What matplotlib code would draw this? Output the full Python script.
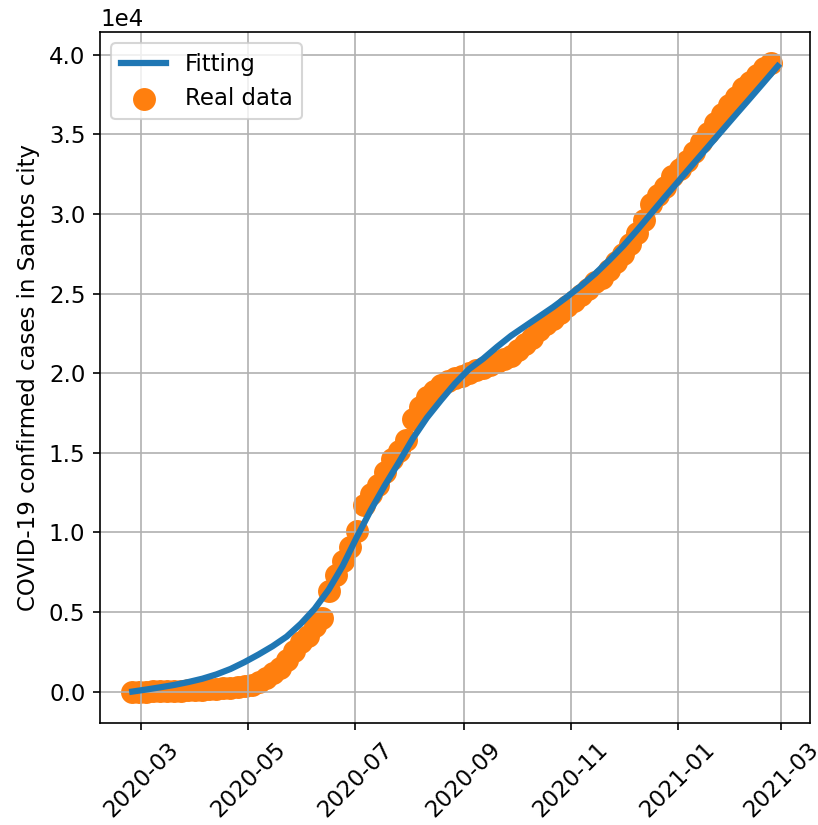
import matplotlib
matplotlib.use('Agg')
import matplotlib.pyplot as plt
import matplotlib.dates as mdates
import numpy as np
import pandas as pd

plt.rcParams['font.size'] = 11

# Santos city cumulative confirmed cases, sampled every 4 days
realDates = pd.date_range('2020-02-25', periods=92, freq='4D')
realCases = [
    0, 2, 5, 10, 15, 25, 40, 60, 80, 100,
    120, 140, 170, 200, 240, 290, 350, 430, 600, 850,
    1150, 1500, 2000, 2550, 3100, 3500, 4100, 4600, 6300, 7300,
    8200, 9100, 10100, 11700, 12400, 13000, 13800, 14600, 15100, 15800,
    17100, 17900, 18500, 18900, 19250, 19500, 19700, 19850, 20000, 20200,
    20350, 20500, 20700, 20900, 21100, 21450, 21800, 22200, 22700, 23100,
    23400, 23800, 24200, 24550, 24900, 25300, 25700, 26000, 26500, 27000,
    27500, 28100, 28800, 29600, 30600, 31200, 31700, 32400, 32800, 33300,
    33900, 34500, 35100, 35700, 36300, 36850, 37350, 37900, 38300, 38750,
    39150, 39450,
]

# fitted curve, sampled every 8 days
fitDates = pd.date_range('2020-02-25', periods=47, freq='8D')
fitCases = [
    0, 130, 270, 420, 600, 810, 1080, 1420, 1850, 2330,
    2850, 3450, 4250, 5200, 6400, 7900, 9700, 11400, 12950, 14400,
    15900, 17200, 18300, 19350, 20250, 20900, 21650, 22350, 22950, 23550,
    24150, 24800, 25500, 26250, 27100, 28000, 29000, 30050, 31100, 32130,
    33160, 34180, 35200, 36220, 37230, 38250, 39280,
]

fig = plt.figure(figsize=(818 / 150, 825 / 150), dpi=150)
ax = fig.add_subplot(111)
fig.subplots_adjust(left=100 / 818, right=810 / 818, bottom=1 - 723 / 825, top=1 - 32 / 825)

ax.plot(fitDates, fitCases, color='C0', linewidth=3, label='Fitting')
ax.scatter(realDates, realCases, color='C1', s=100, label='Real data')

ax.xaxis.set_major_locator(mdates.MonthLocator(bymonth=[1, 3, 5, 7, 9, 11]))
ax.xaxis.set_major_formatter(mdates.DateFormatter('%Y-%m'))
plt.xticks(rotation=45)
ax.ticklabel_format(style='sci', axis='y', scilimits=(0, 0))
ax.set_ylabel('COVID-19 confirmed cases in Santos city')
ax.grid(True)
ax.legend(loc='upper left')

plt.savefig('out.png', dpi=150)
